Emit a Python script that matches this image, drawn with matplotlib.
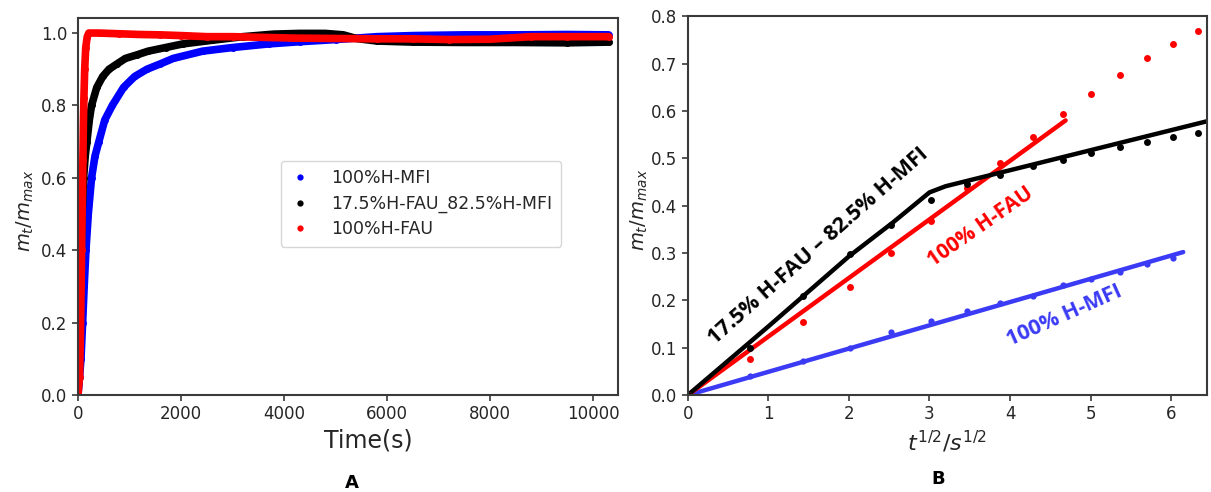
import matplotlib
matplotlib.use("Agg")
import matplotlib.pyplot as plt
from matplotlib.lines import Line2D

# ---- panel A: uptake vs time ----
t_mfi = [0, 30, 58, 90, 120, 154, 200, 263, 330, 405, 520, 666, 885, 1100, 1338,
         1600, 1850, 2420, 3000, 3700, 4300, 5000, 5800, 6500, 7500, 8500, 9500, 10300]
y_mfi = [0, 0.05, 0.1, 0.2, 0.3, 0.4, 0.5, 0.6, 0.66, 0.7, 0.76, 0.8, 0.85, 0.88, 0.9,
         0.915, 0.93, 0.95, 0.96, 0.97, 0.976, 0.982, 0.99, 0.993, 0.995, 0.995, 0.996, 0.995]

t_mix = [0, 20, 40, 58, 80, 109, 140, 173, 220, 263, 365, 480, 602, 760, 922, 1150,
         1363, 1700, 2035, 2600, 3200, 3800, 4300, 4800, 5150, 5400, 5800, 6500, 7500,
         8500, 9500, 10300]
y_mix = [0, 0.1, 0.25, 0.4, 0.5, 0.6, 0.66, 0.7, 0.76, 0.8, 0.85, 0.88, 0.9, 0.915,
         0.93, 0.94, 0.95, 0.96, 0.97, 0.98, 0.99, 0.997, 0.999, 0.999, 0.995, 0.985,
         0.978, 0.975, 0.974, 0.974, 0.973, 0.975]

t_fau = [0, 30, 45, 60, 70, 85, 95, 105, 115, 130, 150, 180, 210, 400, 800, 1200,
         1600, 2000, 2500, 3000, 3600, 4200, 5000, 5800, 6500, 7200, 8000, 8800, 9500, 10300]
y_fau = [0, 0.05, 0.15, 0.3, 0.4, 0.55, 0.65, 0.75, 0.82, 0.9, 0.96, 0.99, 1.0, 1.0,
         0.998, 0.996, 0.995, 0.993, 0.99, 0.99, 0.988, 0.986, 0.985, 0.984, 0.984,
         0.982, 0.983, 0.99, 0.99, 0.99]

legend_labels = ["100%H-MFI", "17.5%H-FAU_82.5%H-MFI", "100%H-FAU"]

# ---- panel B: uptake vs sqrt(t) ----
sq = [0, 0.77, 1.43, 2.01, 2.52, 3.02, 3.46, 3.88, 4.28, 4.66, 5.01, 5.36, 5.70, 6.02, 6.33]
b_mfi = [0, 0.041, 0.073, 0.099, 0.133, 0.156, 0.177, 0.195, 0.209, 0.233, 0.245,
         0.260, 0.276, 0.290]
b_fau = [0, 0.076, 0.154, 0.229, 0.299, 0.367, 0.437, 0.490, 0.545, 0.593, 0.635,
         0.675, 0.711, 0.741, 0.769]
b_mix = [0, 0.100, 0.209, 0.297, 0.360, 0.412, 0.446, 0.465, 0.484, 0.497, 0.511,
         0.523, 0.534, 0.545, 0.553]

fit_mfi_x = [0, 6.15]
fit_mfi_y = [0, 0.302]
fit_fau_x = [0, 4.69]
fit_fau_y = [0, 0.58]
fit_mix_x = [0, 1.0, 2.0, 2.55, 3.0, 3.2, 6.44]
fit_mix_y = [0, 0.145, 0.293, 0.365, 0.428, 0.441, 0.578]

BLUE, RED, BLACK = "#0000ff", "#ff0000", "#000000"
BLUE2 = "#3b3bf5"
TXT = "#262626"

fig = plt.figure(figsize=(12.11, 4.92), dpi=100)
ax1 = fig.add_axes([0.0644, 0.197, 0.4459, 0.766])
ax2 = fig.add_axes([0.568, 0.197, 0.429, 0.770])

# panel A
for t, y, c in [(t_mfi, y_mfi, BLUE), (t_mix, y_mix, BLACK), (t_fau, y_fau, RED)]:
    ax1.plot(t, y, "-", color=c, lw=5.5, solid_capstyle="round",
             solid_joinstyle="round", marker="o", ms=5, mec="none")
ax1.set_xlim(0, 10480)
ax1.set_ylim(0, 1.041)
ax1.set_xticks([0, 2000, 4000, 6000, 8000, 10000])
ax1.set_yticks([0, 0.2, 0.4, 0.6, 0.8, 1.0])
ax1.set_xlabel("Time(s)", fontsize=17, color=TXT)
ax1.xaxis.set_label_coords(0.537, -0.088)
ax1.set_ylabel(r"$m_t/m_{max}$", fontsize=14, color=TXT)
ax1.yaxis.set_label_coords(-0.078, 0.49)
handles = [Line2D([], [], ls="none", marker="o", ms=4.5, color=c, mec="none")
           for c in (BLUE, BLACK, RED)]
leg = ax1.legend(handles, legend_labels, loc="lower left",
                 bbox_to_anchor=(0.376, 0.393), borderaxespad=0, fontsize=12.5,
                 handlelength=1.2, handletextpad=1.2, labelspacing=0.42,
                 borderpad=0.5, frameon=True, fancybox=True, edgecolor="#cccccc")
for txt in leg.get_texts():
    txt.set_color(TXT)

# panel B
ax2.plot(fit_mfi_x, fit_mfi_y, "-", color=BLUE2, lw=3.2, solid_capstyle="round")
ax2.plot(fit_fau_x, fit_fau_y, "-", color=RED, lw=3.2, solid_capstyle="round")
ax2.plot(fit_mix_x, fit_mix_y, "-", color=BLACK, lw=3.2, solid_capstyle="round",
         solid_joinstyle="round")
ax2.plot(sq[:len(b_mfi)], b_mfi, "o", color=BLUE2, ms=4.5, mec="none")
ax2.plot(sq, b_fau, "o", color=RED, ms=5, mec="none")
ax2.plot(sq, b_mix, "o", color=BLACK, ms=5, mec="none")
ax2.set_xlim(0, 6.45)
ax2.set_ylim(0, 0.8)
ax2.set_xticks(range(7))
ax2.set_yticks([0, 0.1, 0.2, 0.3, 0.4, 0.5, 0.6, 0.7, 0.8])
ax2.set_xlabel(r"$t^{1/2}/s^{1/2}$", fontsize=16, color=TXT)
ax2.xaxis.set_label_coords(0.50, -0.088)
ax2.set_ylabel(r"$m_t/m_{max}$", fontsize=14, color=TXT)
ax2.yaxis.set_label_coords(-0.073, 0.49)

kw = dict(family="Open Sans", fontweight="bold", ha="center", va="center",
          rotation_mode="anchor")
ax2.text(1.62, 0.314, "17.5% H-FAU \u2013 82.5% H-MFI", rotation=41.5, fontsize=15.5,
         color=BLACK, **kw)
ax2.text(3.63, 0.356, "100% H-FAU", rotation=35, fontsize=15, color=RED, **kw)
ax2.text(4.68, 0.168, "100% H-MFI", rotation=24, fontsize=15.5, color=BLUE2, **kw)

for ax in (ax1, ax2):
    for s in ax.spines.values():
        s.set_linewidth(1.5)
        s.set_color("#3a3a3a")
    ax.tick_params(direction="out", length=4, width=1.2, labelsize=12,
                   colors="#3a3a3a", labelcolor=TXT)

fig.text(352 / 1211, 1 - 483 / 492, "A", fontsize=13, fontweight="bold",
         ha="center", va="center", color=BLACK)
fig.text(938 / 1211, 1 - 479 / 492, "B", fontsize=13, fontweight="bold",
         ha="center", va="center", color=BLACK)

fig.savefig("out.png", dpi=100)
